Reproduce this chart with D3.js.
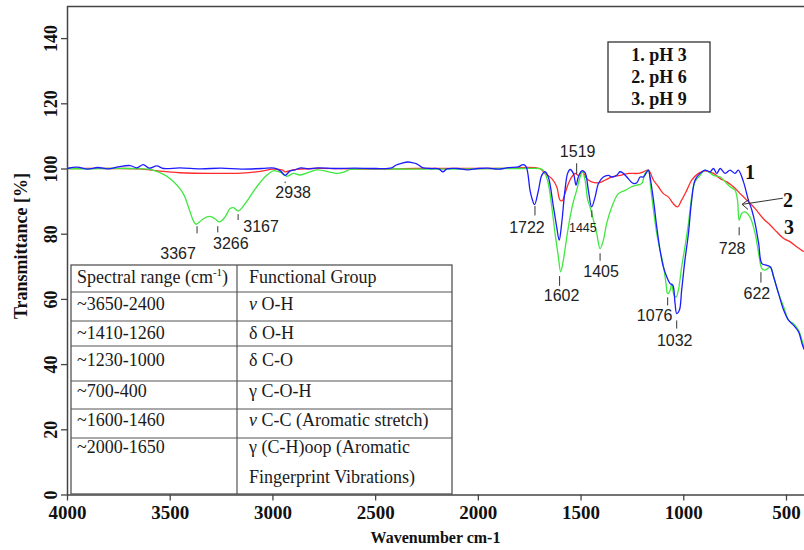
<!DOCTYPE html>
<html>
<head>
<meta charset="utf-8">
<script src="https://cdn.jsdelivr.net/npm/d3@7"></script>
<style>
  html, body { margin: 0; padding: 0; background: #fff; }
  svg { display: block; }
  .serif { font-family: "Liberation Serif", "Times New Roman", serif; }
  .sans { font-family: "Liberation Sans", Arial, sans-serif; }
</style>
</head>
<body>
<div id="chart"></div>
<script>
// ── Data: [wavenumber cm-1, transmittance %] ──
const ph3 = [ // blue, curve 1
  [4000,100],[3950,100.4],[3900,99.8],[3850,100.3],[3800,99.9],[3750,100.5],[3693,100.9],[3660,100.2],[3629,101.2],
  [3600,100.1],[3563,100.8],[3530,100],[3450,100.2],[3350,99.9],[3250,100.1],[3150,99.8],[3050,100],[2990,100.1],
  [2960,99.2],[2938,97.9],[2915,99.2],[2890,99.6],[2860,100.2],[2820,99.9],[2780,100.2],[2700,100],[2600,100.1],
  [2500,100],[2420,100.2],[2400,101],[2370,101.6],[2340,102],[2320,101.8],[2300,101.5],[2270,100.3],[2230,100],
  [2190,99.9],[2170,99.0],[2150,99.9],[2100,100],[2050,99.6],[2000,100],[1950,100.1],[1900,99.8],[1850,100.3],
  [1803,100.5],[1780,101.2],[1765,100.6],[1746,93.3],[1735,90.5],[1724,88.9],[1705,93.3],[1689,97.9],[1673,99],
  [1657,97.4],[1632,88.2],[1616,82],[1604,78],[1592,83.1],[1576,93.3],[1563,98.5],[1551,99.7],[1535,98.5],
  [1522,94.9],[1511,97.4],[1494,99.3],[1478,98.7],[1462,93.3],[1446,88.2],[1429,91.3],[1413,95.4],[1389,97.4],
  [1364,97.9],[1348,97.4],[1324,97.9],[1308,99],[1292,98.5],[1275,97.4],[1243,95.4],[1226,95.6],[1210,97.4],
  [1194,97.4],[1170,99.5],[1162,97.4],[1145,90.3],[1129,82],[1113,74.9],[1097,69.8],[1080,66.7],[1064,64.7],
  [1051,64.2],[1040,58.6],[1032,55.5],[1019,56.5],[1008,62.6],[992,71.8],[975,80],[959,90.3],[943,96.4],
  [918,98.5],[894,99.5],[869,99],[853,100],[837,98.5],[820,100],[796,98.5],[772,99.5],[748,98.5],[732,99.5],
  [707,95.9],[683,90.3],[666,87.2],[650,83.1],[633,77],[617,70.8],[593,70.3],[576,69.8],[560,66.7],[536,61.6],
  [511,56.5],[487,53.4],[463,51.9],[438,49.8],[422,46.3],[412,44.5]
];
const ph6 = [ // green, curve 2
  [4000,100],[3900,99.9],[3800,100],[3700,100],[3606,99.8],[3550,98.8],[3499,96.9],[3434,92.3],[3409,88.2],
  [3385,84],[3372,82.9],[3355,83.6],[3336,84.6],[3304,85.3],[3280,84.6],[3258,83.6],[3231,85.1],[3206,87.7],
  [3190,88.0],[3166,87.0],[3133,89.2],[3076,94.4],[3028,97.9],[2995,99.3],[2960,98.8],[2930,97.6],[2898,98.5],
  [2866,98],[2817,99],[2780,99.6],[2720,98.9],[2690,98.5],[2656,98.8],[2620,99.7],[2500,99.9],[2300,99.8],
  [2100,99.8],[1900,100],[1780,100],[1700,100],[1689,99.8],[1673,98.5],[1657,95.4],[1640,88.2],[1624,80],
  [1608,72.9],[1597,68.3],[1584,71.8],[1567,79],[1551,85.1],[1535,89.8],[1519,93.3],[1502,97.4],[1491,99],
  [1478,96.4],[1465,90.3],[1454,88.2],[1437,84.1],[1421,80],[1405,75.4],[1389,78],[1373,83.1],[1348,88.2],
  [1316,92.3],[1283,93.3],[1251,94.4],[1226,94.9],[1202,95.4],[1186,98.5],[1170,99.5],[1159,94.4],[1145,87.2],
  [1129,80],[1113,74.9],[1097,70.3],[1084,64.7],[1076,61.6],[1064,62.6],[1056,64.7],[1045,61.1],[1035,60.6],
  [1024,62.6],[1008,69.8],[992,75.9],[975,83.1],[959,91.3],[943,95.9],[918,97.9],[894,99.5],[853,97.9],
  [820,97.4],[796,95.9],[772,94.4],[748,93.3],[736,90.3],[728,84.1],[716,86.2],[700,86.7],[675,85.1],[650,80],
  [633,73.9],[617,69.3],[601,68.8],[576,69.8],[560,66.7],[536,61.6],[511,57.5],[487,53.4],[463,52.4],[438,50.3],
  [422,47.3],[412,45]
];
const ph9 = [ // red, curve 3
  [4000,100],[3800,100],[3650,99.9],[3550,99.2],[3450,98.7],[3300,98.5],[3150,98.6],[3050,99.2],[3000,99.8],
  [2950,99.5],[2938,99],[2900,99.6],[2800,100],[2500,99.8],[2300,100],[1900,100],[1700,100],[1673,98.5],
  [1640,96.9],[1616,94.4],[1600,90.3],[1589,90.1],[1576,92.3],[1559,95.4],[1543,97.4],[1527,98.5],[1511,97.9],
  [1491,99],[1470,96.9],[1446,95.9],[1413,95.6],[1381,96.4],[1348,97.4],[1308,97.9],[1267,98.5],[1219,98.5],
  [1194,99],[1170,99.5],[1145,96.4],[1121,94.4],[1097,92.3],[1073,91.3],[1048,89.2],[1029,88.2],[1008,90.3],
  [983,93.3],[959,96.4],[926,98.5],[894,99.3],[853,98.5],[820,96.9],[788,95.9],[756,94.4],[723,92.3],[691,90.3],
  [650,87.7],[610,84.6],[576,82.6],[544,80.5],[511,78.5],[479,77.5],[446,75.9],[414,74.5]
];

const xTicks = [4000, 3500, 3000, 2500, 2000, 1500, 1000, 500];
const yTicks = [0, 20, 40, 60, 80, 100, 120, 140];
const legendItems = ['1. pH 3', '2. pH 6', '3. pH 9'];

const peakWn = [3367, 3266, 3167, 2938, 1722, 1602, 1519, 1445, 1405, 1076, 1032, 728, 622];

const tableHead = ['Spectral range (cm', 'Functional Group'];
const tableRanges = ['~3650-2400', '~1410-1260', '~1230-1000', '~700-400', '~1600-1460', '~2000-1650'];
const tableGroups = [
  ['ν', ' O-H'], ['δ', ' O-H'], ['δ', ' C-O'], ['γ', ' C-O-H'],
  ['ν', ' C-C (Aromatic stretch)'], ['γ', ' (C-H)oop (Aromatic']
];
const tableExtra = 'Fingerprint Vibrations)';

// ── Layout ──
const W = 804, H = 550;
const L = 67, R = 804, T = 5.5, B = 494.5;

const svg = d3.select('#chart').append('svg').attr('width', W).attr('height', H);

const x = d3.scaleLinear().domain([4000, 412.3]).range([L, R]);
const y = d3.scaleLinear().domain([0, 150]).range([B, T]);

svg.append('clipPath').attr('id', 'clip')
  .append('rect').attr('x', L).attr('y', T).attr('width', R - L).attr('height', B - T);

// frame top
svg.append('line').attr('x1', L).attr('x2', R).attr('y1', T + 1).attr('y2', T + 1)
  .attr('stroke', '#444').attr('stroke-width', 1.3);

// Axes
const xAxis = svg.append('g').attr('transform', 'translate(0,' + B + ')')
  .call(d3.axisBottom(x).tickValues(xTicks).tickSize(6).tickSizeOuter(0).tickFormat(d3.format('d')));
xAxis.select('.domain').attr('stroke', '#444').attr('stroke-width', 1.5);
xAxis.selectAll('.tick line').attr('stroke', '#444').attr('stroke-width', 1.3);
xAxis.selectAll('text').attr('class', 'serif').style('font-size', '19px').style('font-weight', 'bold')
  .attr('fill', '#111').attr('y', 11);

const yAxis = svg.append('g').attr('transform', 'translate(' + L + ',0)')
  .call(d3.axisLeft(y).tickValues(yTicks).tickSize(6).tickSizeOuter(0));
yAxis.select('.domain').attr('stroke', '#444').attr('stroke-width', 1.5);
yAxis.selectAll('.tick line').attr('stroke', '#444').attr('stroke-width', 1.3);
yAxis.selectAll('text').attr('class', 'serif').style('font-size', '18px').style('font-weight', 'bold')
  .attr('fill', '#111').attr('x', 0).attr('dy', 0)
  .attr('text-anchor', 'middle')
  .attr('transform', 'translate(-10,0) rotate(-90)');

svg.append('text').attr('class', 'serif')
  .attr('x', (L + R) / 2).attr('y', 543).attr('text-anchor', 'middle')
  .style('font-size', '16px').style('font-weight', 'bold').attr('fill', '#111')
  .text('Wavenumber cm-1');
svg.append('text').attr('class', 'serif')
  .attr('transform', 'translate(27,' + ((T + B) / 2 - 4) + ') rotate(-90)')
  .attr('text-anchor', 'middle')
  .style('font-size', '18px').style('font-weight', 'bold').attr('fill', '#111')
  .text('Transmittance [%]');

// ── Spectra ──
const line = d3.line().x(d => x(d[0])).y(d => y(d[1])).curve(d3.curveCatmullRom.alpha(0.5));
const plot = svg.append('g').attr('clip-path', 'url(#clip)');
[[ph9, '#ff2b2b'], [ph6, '#3fe83f'], [ph3, '#1c1cff']].forEach(([data, col]) => {
  plot.append('path').datum(data).attr('d', line)
    .attr('fill', 'none').attr('stroke', col).attr('stroke-width', 1.3);
});

// ── Peak annotations (tick top/bottom value, label dx, label baseline value, font size) ──
const peakLayout = {
  3367: [82.3, 80.1, -19, 72.3, 16], 3266: [82.3, 80.4, 13, 75.4, 16], 3167: [86, 84.2, 23, 80.6, 16],
  2938: [96, 95.5, 8, 91, 16], 1722: [88.5, 85.6, -8, 80.1, 16], 1602: [67, 64, 2, 59.3, 16],
  1519: [101.6, 98.3, 1, 103.5, 16], 1445: [87.2, 85, -9, 80.6, 12.5], 1405: [74, 71.7, 1, 66.6, 16],
  1076: [60.5, 58, -13, 53.3, 16], 1032: [53.4, 50.9, -2, 45.6, 16], 728: [82, 79.5, -7, 73.8, 16],
  622: [68.2, 65, -4, 60, 16]
};
const ann = svg.append('g');
peakWn.forEach(wn => {
  const p = peakLayout[wn];
  ann.append('line').attr('x1', x(wn)).attr('x2', x(wn)).attr('y1', y(p[0])).attr('y2', y(p[1]))
    .attr('stroke', '#333').attr('stroke-width', 1);
  ann.append('text').attr('class', 'sans')
    .attr('x', x(wn) + p[2]).attr('y', y(p[3])).attr('text-anchor', 'middle')
    .style('font-size', p[4] + 'px').attr('fill', '#222').text(wn);
});

// curve numbers and arrow
const curveNum = [['1', 675, 96.7], ['2', 490, 88.1], ['3', 485, 79.8]];
curveNum.forEach(c => {
  svg.append('text').attr('class', 'serif').attr('x', x(c[1])).attr('y', y(c[2]))
    .attr('text-anchor', 'middle').style('font-size', '20px').style('font-weight', 'bold')
    .attr('fill', '#111').text(c[0]);
});
const ax1 = x(515), ay1 = y(90.9), ax2 = x(714), ay2 = y(89);
svg.append('line').attr('x1', ax1).attr('y1', ay1).attr('x2', ax2).attr('y2', ay2)
  .attr('stroke', '#333').attr('stroke-width', 1);
svg.append('path')
  .attr('d', 'M' + (ax2 + 7) + ',' + (ay2 - 5) + 'L' + ax2 + ',' + ay2 + 'L' + (ax2 + 6) + ',' + (ay2 + 5))
  .attr('fill', 'none').attr('stroke', '#333').attr('stroke-width', 1);

// ── Legend box ──
const lg = svg.append('g');
lg.append('rect').attr('x', 608).attr('y', 42).attr('width', 102).attr('height', 70)
  .attr('fill', '#fff').attr('stroke', '#333').attr('stroke-width', 1.3);
legendItems.forEach((t, i) => {
  lg.append('text').attr('class', 'serif').attr('x', 659).attr('y', 61 + i * 22)
    .attr('text-anchor', 'middle').style('font-size', '18px').style('font-weight', 'bold')
    .attr('fill', '#111').text(t);
});

// ── Functional group table ──
const tb = svg.append('g').attr('class', 'serif').style('font-size', '18px').attr('fill', '#1a1a1a');
const rowY = [265, 292, 321, 346, 381, 409, 438, 494];
const colX = [71, 237, 452];
tb.append('rect').attr('x', colX[0]).attr('y', rowY[0]).attr('width', colX[2] - colX[0])
  .attr('height', rowY[rowY.length - 1] - rowY[0]).attr('fill', '#fff').attr('stroke', '#555').attr('stroke-width', 1.3);
rowY.slice(1, -1).forEach(ry => {
  tb.append('line').attr('x1', colX[0]).attr('x2', colX[2]).attr('y1', ry).attr('y2', ry)
    .attr('stroke', '#555').attr('stroke-width', 1.2);
});
tb.append('line').attr('x1', colX[1]).attr('x2', colX[1]).attr('y1', rowY[0]).attr('y2', rowY[rowY.length - 1])
  .attr('stroke', '#555').attr('stroke-width', 1.2);

const textBase = [283, 310, 339, 366, 397, 426, 453];
const h0 = tb.append('text').attr('x', 77).attr('y', textBase[0]);
h0.append('tspan').text(tableHead[0]);
h0.append('tspan').attr('dy', -7).style('font-size', '11px').text('-1');
h0.append('tspan').attr('dy', 7).text(')');
tb.append('text').attr('x', 249).attr('y', textBase[0]).text(tableHead[1]);
tableRanges.forEach((r, i) => {
  tb.append('text').attr('x', 77).attr('y', textBase[i + 1]).text(r);
  const g = tb.append('text').attr('x', 249).attr('y', textBase[i + 1]);
  if (tableGroups[i][0] === 'ν') g.append('tspan').style('font-style', 'italic').text('v');
  else g.append('tspan').text(tableGroups[i][0]);
  g.append('tspan').text(tableGroups[i][1]);
});
tb.append('text').attr('x', 249).attr('y', 483).text(tableExtra);
</script>
</body>
</html>
